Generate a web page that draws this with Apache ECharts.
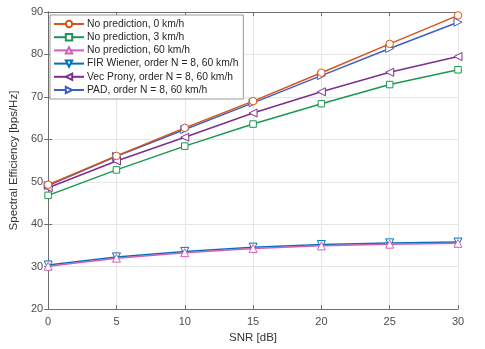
<!DOCTYPE html>
<html><head><meta charset="utf-8">
<script src="https://cdn.jsdelivr.net/npm/echarts@6/dist/echarts.min.js"></script>
<style>html,body{margin:0;padding:0;background:#fff}#c{width:485px;height:349px}</style>
</head><body><div id="c"></div>
<script>
const snr = [0, 5, 10, 15, 20, 25, 30];
const xTicks = [0, 5, 10, 15, 20, 25, 30];
const yTicks = [20, 30, 40, 50, 60, 70, 80, 90];
const names = ["No prediction, 0 km/h", "No prediction, 3 km/h", "No prediction, 60 km/h",
  "FIR Wiener, order N = 8, 60 km/h", "Vec Prony, order N = 8, 60 km/h", "PAD, order N = 8, 60 km/h"];
const noPred0 = [49.3, 56.1, 62.7, 69.0, 75.7, 82.5, 89.2];
const noPred3 = [46.8, 52.8, 58.4, 63.6, 68.4, 72.9, 76.4];
const noPred60 = [30.1, 32.0, 33.3, 34.3, 34.9, 35.3, 35.5];
const firWiener = [30.4, 32.3, 33.6, 34.6, 35.2, 35.6, 35.8];
const vecProny = [48.6, 54.9, 60.5, 66.2, 71.2, 75.8, 79.5];
const pad = [49.1, 56.0, 62.3, 68.6, 75.0, 81.4, 87.6];

const colors = ['#D95319', '#1A9850', '#D060B8', '#0072BD', '#7E2F8E', '#3F5FC0'];
const symbols = ['circle', 'rect', 'triangle', 'triangle', 'triangle', 'triangle'];
const rots = [0, 0, 0, 180, 90, -90];
const sizes = [7.5, 6.5, 8, 8, 8, 8];
const datas = [noPred0, noPred3, noPred60, firWiener, vecProny, pad];

const chart = echarts.init(document.getElementById('c'));
const axisCol = '#6e6e6e';
const ff = 'Liberation Sans, Arial';
const series = datas.map((d, i) => ({
  name: names[i], type: 'line', data: d.map((v, k) => [snr[k], v]),
  symbol: symbols[i], symbolRotate: rots[i], symbolSize: sizes[i],
  lineStyle: {color: colors[i], width: 1.5},
  itemStyle: {color: '#fff', borderColor: colors[i], borderWidth: 1},
  z: 10 - i, animation: false
}));
chart.setOption({
  animation: false,
  grid: {left: 45, right: 27, top: 12, bottom: 38, show: false},
  legend: {
    orient: 'vertical', left: 50, top: 15, itemWidth: 30, itemHeight: 8, itemGap: 3.2,
    backgroundColor: '#fff', borderColor: '#999', borderWidth: 1, padding: [4, 5, 4, 3],
    textStyle: {fontFamily: ff, fontSize: 10.3, color: '#262626', padding: [0, 0, 0, -2]},
    data: names
  },
  xAxis: [{
    type: 'value', min: 0, max: 30, interval: 5,
    name: 'SNR [dB]', nameLocation: 'middle', nameGap: 18,
    nameTextStyle: {fontFamily: ff, fontSize: 11.5, color: '#333'},
    axisLine: {lineStyle: {color: axisCol}},
    axisTick: {inside: true, length: 4, lineStyle: {color: axisCol}},
    axisLabel: {fontFamily: ff, fontSize: 11, color: '#4d4d4d', margin: 7},
    splitLine: {show: true, lineStyle: {color: '#e6e6e6'}}
  }, {
    type: 'value', min: 0, max: 30, interval: 5, position: 'top',
    axisLine: {show: true, lineStyle: {color: axisCol}},
    axisTick: {inside: true, length: 4, lineStyle: {color: axisCol}},
    axisLabel: {show: false}, splitLine: {show: false}
  }],
  yAxis: [{
    type: 'value', min: 20, max: 90, interval: 10,
    name: 'Spectral Efficiency [bps/Hz]', nameLocation: 'middle', nameGap: 22,
    nameTextStyle: {fontFamily: ff, fontSize: 11.5, color: '#333'},
    axisLine: {show: true, lineStyle: {color: axisCol}},
    axisTick: {show: true, inside: true, length: 4, lineStyle: {color: axisCol}},
    axisLabel: {fontFamily: ff, fontSize: 11, color: '#4d4d4d', margin: 5},
    splitLine: {show: true, lineStyle: {color: '#e6e6e6'}}
  }, {
    type: 'value', min: 20, max: 90, interval: 10, position: 'right',
    axisLine: {show: true, lineStyle: {color: axisCol}},
    axisTick: {show: true, inside: true, length: 4, lineStyle: {color: axisCol}},
    axisLabel: {show: false}, splitLine: {show: false}
  }],
  series: series
});
</script></body></html>
